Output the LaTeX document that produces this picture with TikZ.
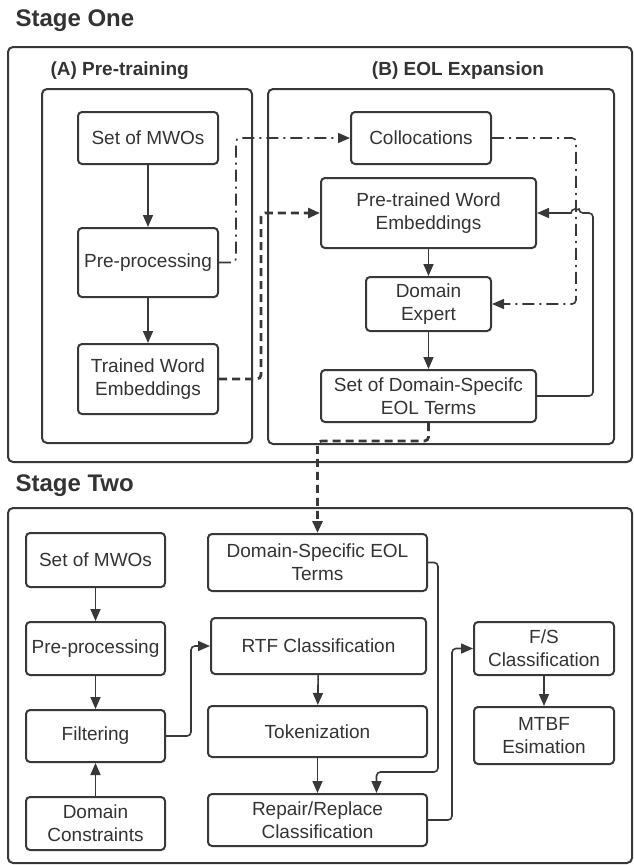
\documentclass[tikz,border=0pt]{standalone}
\usepackage{fontspec}
\setmainfont{Liberation Sans}
\usepackage{tikz}
\usetikzlibrary{
    arrows.meta,
    positioning,
    calc
}
\definecolor{linegray}{HTML}{383838}
\definecolor{textgray}{HTML}{333333}

\begin{document}
\begin{tikzpicture}[
    x=1pt, y=-1pt,
    font=\fontsize{19}{23}\selectfont,
    block/.style={
        rectangle,
        draw=linegray,
        line width=2pt,
        rounded corners=4pt,
        text=textgray,
        align=center,
        inner sep=2pt
    },
    frame/.style={draw=linegray, line width=2pt, rounded corners=5pt},
    title/.style={text=textgray, font=\fontsize{24}{28}\selectfont\bfseries},
    subtitle/.style={text=textgray, font=\fontsize{19}{23}\selectfont\bfseries},
    arrow/.style={-{Triangle[length=12pt,width=10pt]}, draw=linegray, line width=1.6pt},
    dashdot/.style={arrow, dash pattern=on 12pt off 5pt on 2pt off 5pt},
    bigdash/.style={arrow, line width=2.8pt, dash pattern=on 8pt off 5pt}
]
    \useasboundingbox (0,0) rectangle (634,865);

    % Frames and titles
    \draw[frame] (8,47) rectangle (632,462);
    \draw[frame] (42,89) rectangle (252,443);
    \draw[frame] (268,89) rectangle (614,444);
    \draw[frame] (8,508) rectangle (632,863);

    \node[title,anchor=base west] (stageone) at (12,26) {Stage One};
    \node[subtitle,anchor=base west] (pretrain) at (47,75) {(A) Pre-training};
    \node[subtitle,anchor=base] (eolexp) at (458,75) {(B) EOL Expansion};
    \node[title,anchor=base west] (stagetwo) at (12,491) {Stage Two};

    % Stage one: pre-training
    \node[block,minimum width=140pt,minimum height=52pt] (mwoA) at (148,138) {Set of MWOs};
    \node[block,minimum width=140pt,minimum height=69pt,below=62pt of mwoA] (preA) {Pre-processing};
    \node[block,minimum width=140pt,minimum height=70pt,below=45pt of preA] (tweA) {Trained Word\\Embeddings};

    % Stage one: EOL expansion
    \node[block,minimum width=140pt,minimum height=52pt] (colloc) at (421,138) {Collocations};
    \node[block,minimum width=215pt,minimum height=70pt] (ptwe) at (428.5,213) {Pre-trained Word\\Embeddings};
    \node[block,minimum width=125pt,minimum height=54pt,below=27pt of ptwe] (dexp) {Domain\\Expert};
    \node[block,minimum width=215pt,minimum height=52pt,below=37pt of dexp] (dsterms) {Set of Domain-Specifc\\EOL Terms};
    \coordinate (hop) at (575,213);

    % Stage two
    \node[block,minimum width=139pt,minimum height=54pt] (mwoB) at (95.5,560) {Set of MWOs};
    \node[block,minimum width=139pt,minimum height=53pt,below=33pt of mwoB] (preB) {Pre-processing};
    \node[block,minimum width=139pt,minimum height=52pt,below=33pt of preB] (filt) {Filtering};
    \node[block,minimum width=139pt,minimum height=53pt,below=33pt of filt] (dcon) {Domain\\Constraints};

    \node[block,minimum width=219pt,minimum height=57pt] (eolB) at (317.5,562.5) {Domain-Specific EOL\\Terms};
    \node[block,minimum width=215pt,minimum height=56pt] (rtf) at (318.5,646) {RTF Classification};
    \node[block,minimum width=219pt,minimum height=51pt] (tok) at (317.5,731.5) {Tokenization};
    \node[block,minimum width=219pt,minimum height=52pt,below=35pt of tok] (repl) {Repair/Replace\\Classification};

    \node[block,minimum width=140pt,minimum height=53pt] (fsc) at (544,648.5) {F/S\\Classification};
    \node[block,minimum width=140pt,minimum height=57pt,below=30pt of fsc] (mtbf) {MTBF\\Esimation};

    % Arrows, stage one
    \draw[arrow] (mwoA) -- (preA);
    \draw[arrow] (preA) -- (tweA);
    \draw[dashdot,rounded corners=4pt] (preA.east) -- ++(17,0) |- (colloc.west);
    \draw[dashdot,rounded corners=4pt] (colloc.east) -- ++(84,0) |- (dexp.east);
    \draw[bigdash,rounded corners=4pt] (tweA.east) -- ++(42,0) |- (ptwe.west);
    \draw[arrow] (ptwe) -- (dexp);
    \draw[arrow] (dexp) -- (dsterms);
    \draw[arrow,rounded corners=4pt] (dsterms.east) -- ++(56,0) |- ([xshift=4pt]hop)
        [sharp corners] arc[start angle=0,end angle=180,radius=4pt] -- (ptwe.east);
    \draw[bigdash,rounded corners=4pt] (dsterms.south) -- ++(0,18) -| (eolB.north);

    % Arrows, stage two
    \draw[arrow] (mwoB) -- (preB);
    \draw[arrow] (preB) -- (filt);
    \draw[arrow] (dcon) -- (filt);
    \draw[arrow,rounded corners=4pt] (filt.east) -- ++(25,0) |- (rtf.west);
    \draw[arrow] (rtf) -- (tok);
    \draw[arrow] (tok) -- (repl);
    \draw[arrow,rounded corners=4pt] (eolB.east) -- ++(10,0) |- ([xshift=59pt,yshift=21pt]repl.north) -- ([xshift=59pt]repl.north);
    \draw[arrow,rounded corners=4pt] (repl.east) -- ++(24,0) |- (fsc.west);
    \draw[arrow] (fsc) -- (mtbf);
\end{tikzpicture}
\end{document}
